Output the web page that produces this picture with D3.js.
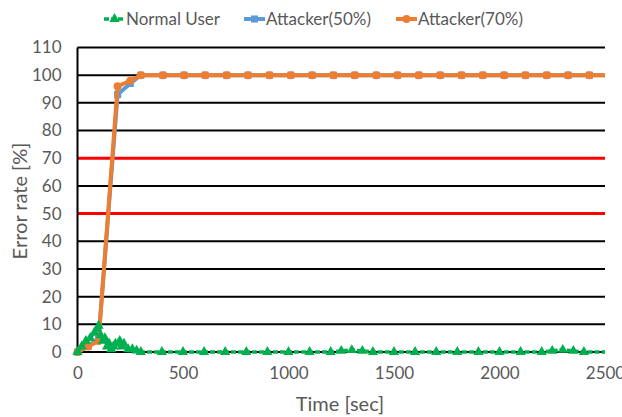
<!DOCTYPE html>
<html><head><meta charset="utf-8">
<script src="https://cdn.jsdelivr.net/npm/d3@7"></script>
<style>body{margin:0;background:#fff}text{font-family:Lato,"Open Sans",sans-serif;fill:#595959}</style>
</head><body><svg id="c" width="622" height="417"></svg>
<script>
// ---- data ----
const xTicks = [0, 500, 1000, 1500, 2000, 2500];
const yTicks = [0, 10, 20, 30, 40, 50, 60, 70, 80, 90, 100, 110];
const thresholdLines = [50, 70];
const seriesNames = ["Normal User", "Attacker(50%)", "Attacker(70%)"];
const runEnd = 2500;

const normalTime = [0, 20, 40, 60, 80, 100, 110, 120, 130, 140, 150, 160, 170, 180, 200, 210, 220, 240, 260, 280, 300,
  400, 500, 600, 700, 800, 900, 1000, 1100, 1200, 1250, 1300, 1350, 1400, 1500, 1600, 1700, 1800, 1900, 2000, 2100, 2200, 2250, 2300, 2350, 2400];
const normalRate = [0, 2, 4, 5, 7, 9.5, 6, 4, 5, 2, 3, 1, 2, 3, 4, 2, 3, 1, 1, 0.5, 0,
  0, 0, 0, 0, 0, 0, 0, 0, 0, 0.4, 0.7, 0.4, 0, 0, 0, 0, 0, 0, 0, 0, 0, 0.4, 0.8, 0.4, 0];

const attackTime = [0, 50, 100, 190, 250, 300, 405, 505, 605, 707, 808, 910, 1011, 1112, 1213, 1314, 1416, 1517, 1618, 1719, 1820, 1921, 2022, 2123, 2224, 2325, 2426];
const attack50 = [0, 2, 5, 93, 97, 100, 100, 100, 100, 100, 100, 100, 100, 100, 100, 100, 100, 100, 100, 100, 100, 100, 100, 100, 100, 100, 100];
const attack70 = [0, 2, 4, 96, 98, 100, 100, 100, 100, 100, 100, 100, 100, 100, 100, 100, 100, 100, 100, 100, 100, 100, 100, 100, 100, 100, 100];

// ---- chart ----
const svg = d3.select("#c");
const x = d3.scaleLinear().domain([0, 2500]).range([77.5, 605]);
const y = d3.scaleLinear().domain([0, 110]).range([352, 47.5]);

// gridlines
svg.append("g").selectAll("line").data(yTicks.filter(v => v > 0 && !thresholdLines.includes(v))).join("line")
  .attr("x1", x(0)).attr("x2", x(2500)).attr("y1", d => y(d)).attr("y2", d => y(d))
  .attr("stroke", "#000").attr("stroke-width", 2);
svg.append("g").selectAll("line").data(thresholdLines).join("line")
  .attr("x1", x(0)).attr("x2", x(2500)).attr("y1", d => y(d)).attr("y2", d => y(d))
  .attr("stroke", "#ff0000").attr("stroke-width", 3);
svg.append("line").attr("x1", x(0)).attr("x2", x(2500)).attr("y1", y(0)).attr("y2", y(0))
  .attr("stroke", "#000").attr("stroke-width", 2);
svg.append("line").attr("x1", x(0)).attr("x2", x(0)).attr("y1", y(0)).attr("y2", y(110))
  .attr("stroke", "#000").attr("stroke-width", 2);

// axis labels
const ya = svg.append("g").attr("transform", `translate(${x(0)},0)`)
  .call(d3.axisLeft(y).tickValues(yTicks).tickFormat(d3.format("d")).tickSize(0).tickPadding(16));
ya.select(".domain").remove();
ya.selectAll("text").style("font-size", "17px").attr("fill", "#595959");
const xa = svg.append("g").attr("transform", `translate(0,${y(0)})`)
  .call(d3.axisBottom(x).tickValues(xTicks).tickFormat(d3.format("d")).tickSize(0).tickPadding(15));
xa.select(".domain").remove();
xa.selectAll("text").style("font-size", "17px").attr("fill", "#595959");

svg.append("text").attr("x", 340).attr("y", 411).attr("text-anchor", "middle").style("font-size", "20px").text("Time [sec]");
svg.append("text").attr("transform", "translate(27,201) rotate(-90)").attr("text-anchor", "middle").style("font-size", "20px").text("Error rate [%]");

const colors = ["#00B050", "#5B9BD5", "#ED7D31"];
const line = d3.line().x(d => x(d[0])).y(d => y(d[1]));

const normalPts = normalTime.map((t, i) => [t, normalRate[i]]);
const a50Pts = attackTime.map((t, i) => [t, attack50[i]]);
const a70Pts = attackTime.map((t, i) => [t, attack70[i]]);

function drawSeries(pts, color, width, dash, marker) {
  const last = pts[pts.length - 1];
  const linePts = pts.concat([[runEnd, last[1]]]);
  svg.append("path").datum(linePts).attr("d", line).attr("fill", "none")
    .attr("stroke", color).attr("stroke-width", width).attr("stroke-dasharray", dash)
    .attr("stroke-linejoin", "round");
  const g = svg.append("g");
  g.selectAll("path").data(pts).join("path")
    .attr("transform", d => `translate(${x(d[0])},${y(d[1])})`)
    .attr("d", d3.symbol().type(marker).size(marker === d3.symbolTriangle ? 45 : 50))
    .attr("fill", color);
}
drawSeries(a50Pts, colors[1], 4, null, d3.symbolSquare);
drawSeries(a70Pts, colors[2], 4, null, d3.symbolCircle);
drawSeries(normalPts, colors[0], 3.5, "5,2", d3.symbolTriangle);

// legend
const legX = [104, 244, 396];
const legSym = [d3.symbolTriangle, d3.symbolSquare, d3.symbolCircle];
seriesNames.forEach((n, i) => {
  const g = svg.append("g").attr("transform", `translate(${legX[i]},19)`);
  g.append("line").attr("x1", 0).attr("x2", 21).attr("stroke", colors[i]).attr("stroke-width", i === 0 ? 3.5 : 4)
    .attr("stroke-dasharray", i === 0 ? "5,2" : null);
  g.append("path").attr("transform", "translate(10.5,0)").attr("d", d3.symbol().type(legSym[i]).size(i === 0 ? 45 : 50)).attr("fill", colors[i]);
  g.append("text").attr("x", 22).attr("y", 6).style("font-size", "17px").text(n);
});
</script></body></html>
